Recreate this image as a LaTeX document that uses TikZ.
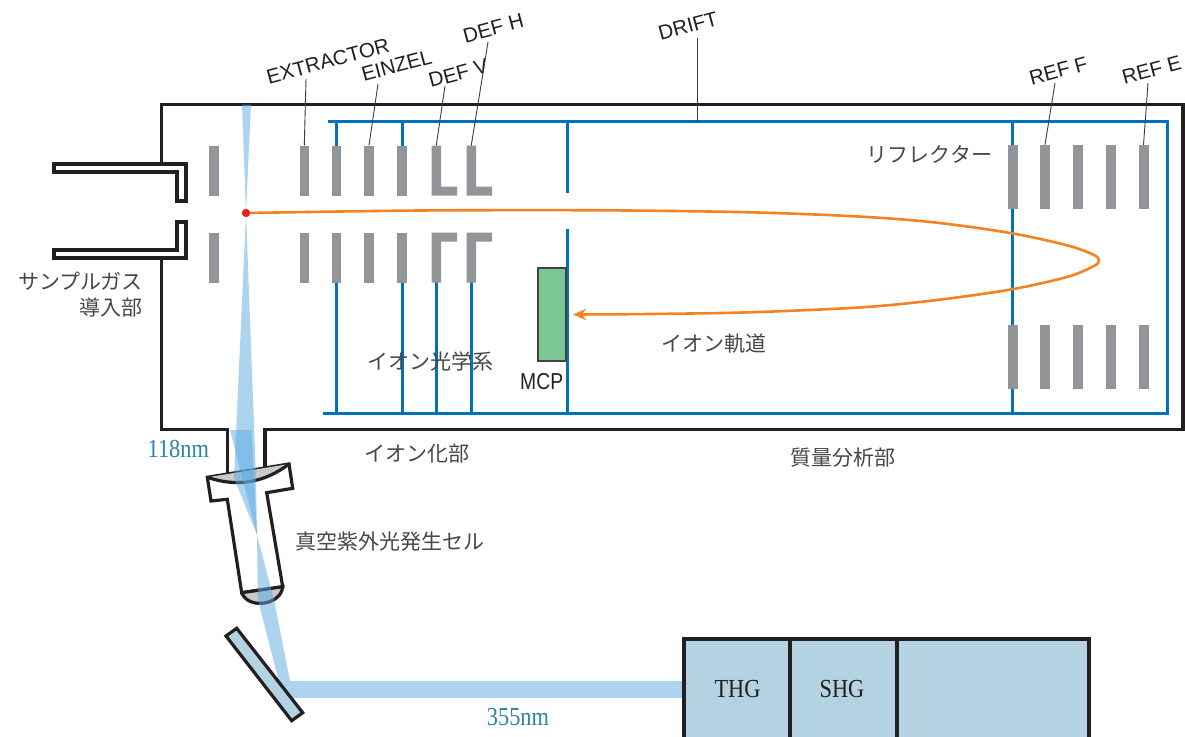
\documentclass[tikz,border=0pt]{standalone}
\usepackage{fontspec}
\setmainfont{Liberation Sans}
\newfontfamily\tagfont{Liberation Sans}
\newfontfamily\jpfont{Noto Sans CJK JP}
\newfontfamily\serifnarrow[FakeStretch=0.86]{Liberation Serif}
\newfontfamily\sansnarrow[FakeStretch=0.84]{Liberation Sans}
\usetikzlibrary{arrows.meta}

\definecolor{ink}{HTML}{231F20}
\definecolor{wireblue}{HTML}{0072BC}
\definecolor{elgray}{HTML}{939598}
\definecolor{leadgray}{HTML}{3C3C3C}
\definecolor{jpgray}{HTML}{474747}
\definecolor{ionorange}{HTML}{F58220}
\definecolor{ionred}{HTML}{ED1C24}
\definecolor{mcpgreen}{HTML}{7BC794}
\definecolor{optblue}{HTML}{B3D3E3}
\definecolor{lensgray}{HTML}{C8C9CA}
\definecolor{beamblue}{RGB}{90,170,225}
\definecolor{nmteal}{HTML}{2A84A6}

\tikzset{
  wall/.style={draw=ink, line width=3.2pt, line join=miter},
  wire/.style={draw=wireblue, line width=3pt},
  electrode/.style={rectangle, fill=elgray, inner sep=0pt, minimum width=9.5pt, minimum height=50pt},
  refplate/.style={rectangle, fill=elgray, inner sep=0pt, minimum width=10pt, minimum height=64pt},
  leader/.style={draw=leadgray, line width=0.9pt},
  tag/.style={font=\tagfont\fontsize{20.5}{24}\selectfont, text=ink, rotate=15, inner sep=0pt},
  jp/.style={font=\jpfont\fontsize{21}{24}\selectfont, text=jpgray, inner sep=0pt},
  nm/.style={font=\serifnarrow\fontsize{26}{28}\selectfont, text=nmteal, inner sep=0pt},
  gen/.style={font=\serifnarrow\fontsize{26}{28}\selectfont, text=ink, inner sep=0pt},
  beam/.style={fill=beamblue, fill opacity=0.5},
  optic/.style={draw=ink, line width=3.2pt, fill=optblue, line join=miter},
  ion/.style={draw=ionorange, line width=2.6pt},
}

\begin{document}
\begin{tikzpicture}[x=1pt,y=-1pt]
\useasboundingbox (0,0) rectangle (1185,736);
\clip (0,0) rectangle (1185,736);
\fill[white] (0,0) rectangle (1185,736);

% ---------- vacuum chamber ----------
\draw[wall] (161.5,164) -- (161.5,104.5) -- (1183,104.5) -- (1183,429.5) -- (265,429.5) -- (265,469);
\draw[wall] (161.5,258) -- (161.5,429.5) -- (227.3,429.5) -- (227.3,475);

% sample gas inlet
\filldraw[wall, fill=white] (54,164) -- (186,164) -- (186,201) -- (177,201) -- (177,172) -- (54,172) -- cycle;
\filldraw[wall, fill=white] (54,250) -- (177,250) -- (177,222) -- (186,222) -- (186,258) -- (54,258) -- cycle;

% ---------- electrical wiring ----------
\coordinate (w-tl) at (327.5,121.5);
\coordinate (w-tr) at (1167,121.5);
\coordinate (w-br) at (1167,413);
\coordinate (w-bl) at (323,413);
\draw[wire, line join=miter] (w-tl) -- (w-tr) -- (w-br) -- (w-bl);
\draw[wire] (1012.5,121.5) -- (1012.5,413);
\draw[wire] (336.5,121.5) -- (336.5,150);
\draw[wire] (402,121.5) -- (402,150);
\draw[wire] (336.5,270) -- (336.5,413);
\draw[wire] (402,270) -- (402,413);
\draw[wire] (436.25,270) -- (436.25,413);
\draw[wire] (471.25,270) -- (471.25,413);
\coordinate (drift-top) at (567,121.5);
\draw[wire] (drift-top) -- (567,193.3);
\draw[wire] (567,229.3) -- (567,413);

% ---------- electrodes ----------
\foreach \n/\x in {src/214, ext/304.3, ez1/336.5, ez2/369, ez3/402} {
  \node[electrode] (\n-u) at (\x,170.5) {};
  \node[electrode] (\n-l) at (\x,257.5) {};
}
% deflectors (L-shaped plates)
\fill[elgray] (431.5,145.5) -- (441,145.5) -- (441,186.5) -- (457,186.5) -- (457,195.5) -- (431.5,195.5) -- cycle;
\fill[elgray] (466.5,145.5) -- (476,145.5) -- (476,186.5) -- (492,186.5) -- (492,195.5) -- (466.5,195.5) -- cycle;
\fill[elgray] (431.5,232.5) -- (457,232.5) -- (457,241.5) -- (441,241.5) -- (441,282.5) -- (431.5,282.5) -- cycle;
\fill[elgray] (466.5,232.5) -- (492,232.5) -- (492,241.5) -- (476,241.5) -- (476,282.5) -- (466.5,282.5) -- cycle;
\coordinate (defv-top) at (436.25,145.5);
\coordinate (defh-top) at (471.25,145.5);

% reflectron plates
\foreach \i/\x in {1/1012.5, 2/1045, 3/1078, 4/1110.5, 5/1143.5} {
  \node[refplate] (rf\i-u) at (\x,177) {};
  \node[refplate] (rf\i-l) at (\x,357) {};
}

% detector
\node[rectangle, fill=mcpgreen, draw=ink!85, line width=1.3pt, inner sep=0pt,
      minimum width=28pt, minimum height=93pt] (mcp) at (552,314.5) {};

% ---------- labels with leaders ----------
\node[tag] (t-ext) at (328,61) {EXTRACTOR};
\node[tag] (t-einzel) at (396.7,65.7) {EINZEL};
\node[tag] (t-defv) at (458.3,73.3) {DEF V};
\node[tag] (t-defh) at (493.3,28.3) {DEF H};
\node[tag] (t-drift) at (688,26) {DRIFT};
\node[tag] (t-reff) at (1058.3,70.7) {REF F};
\node[tag] (t-refe) at (1151.7,70) {REF E};

\coordinate (t-ext-foot) at (306,79);
\coordinate (t-einzel-foot) at (378,84);
\coordinate (t-defv-foot) at (445,86);
\coordinate (t-defh-foot) at (488,42);
\coordinate (t-drift-foot) at (697,38);
\coordinate (drift-wire) at (697,121.5);
\coordinate (t-reff-foot) at (1055,83);
\coordinate (t-refe-foot) at (1148,83);

\draw[leader] (t-ext-foot) -- (ext-u.north);
\draw[leader] (t-einzel-foot) -- (ez2-u.north);
\draw[leader] (t-defv-foot) -- (defv-top);
\draw[leader] (t-defh-foot) -- (defh-top);
\draw[leader] (t-drift-foot) -- (drift-wire);
\draw[leader] (t-reff-foot) -- (rf2-u.north);
\draw[leader] (t-refe-foot) -- (rf5-u.north);

% ---------- text ----------
\node[jp, anchor=east] (j-inlet1) at (143,281.5) {サンプルガス};
\node[jp, anchor=east] (j-inlet2) at (143,308) {導入部};
\node[jp] (j-optics) at (430,361) {イオン光学系};
\node[jp] (j-ionize) at (417,454) {イオン化部};
\node[jp] (j-mass) at (843,458) {質量分析部};
\node[jp, anchor=west] (j-cell) at (295,541.5) {真空紫外光発生セル};
\node[jp] (j-refl) at (929.5,154) {リフレクター};
\node[jp] (j-orbit) at (714,344) {イオン軌道};
\node[font=\sansnarrow\fontsize{23}{26}\selectfont, text=ink, inner sep=0pt] (t-mcp) at (541.7,381.5) {MCP};
\node[nm] (t-118) at (178.3,449) {118nm};
\node[nm] (t-355) at (518,717) {355nm};

% ---------- VUV generation cell ----------
\coordinate (F1) at (207.3,477.3);
\coordinate (F2) at (289,464);
\coordinate (F3) at (292.7,488.3);
\coordinate (T1) at (266.7,492.7);
\coordinate (T2) at (282.7,586.7);
\coordinate (T3) at (241.7,592.7);
\coordinate (T4) at (227.3,499.3);
\coordinate (F4) at (211,501);
\filldraw[wall, fill=white] (F1) -- (F2) -- (F3) -- (T1) -- (T2) -- (T3) -- (T4) -- (F4) -- cycle;
% lenses
\fill[lensgray] (F1) .. controls (236.9,487.4) and (264.2,482.9) .. (F2) -- cycle;
\draw[wall] (F1) .. controls (236.9,487.4) and (264.2,482.9) .. (F2);
\fill[lensgray] (T3) .. controls (248.4,609.9) and (281.2,605.1) .. (T2) -- cycle;
\draw[wall] (T3) .. controls (248.4,609.9) and (281.2,605.1) .. (T2) -- (T3);

% ---------- laser beams ----------
\coordinate (laser-out-top) at (684,681);
\coordinate (laser-out-bot) at (684,698);
\coordinate (focus-cell) at (257,535);
\coordinate (focus-ion) at (246,213);
\fill[beam] (laser-out-top) -- (290,681) -- (274,600) -- (focus-cell) -- (251.5,430) -- (230,430)
   -- (focus-cell) -- (258,600) -- (279,682) -- (292,698) -- (laser-out-bot) -- cycle;
\fill[beam] (focus-cell) -- (234,478) -- (focus-ion) -- (242,104.5) -- (251,104.5) -- (focus-ion)
   -- (256,478) -- cycle;

% mirror
\filldraw[optic] (226,636) -- (236.7,628.3) -- (302.7,712.7) -- (291.7,720.7) -- cycle;

% laser with harmonic generators
\draw[optic] (684,639) rectangle (1089,760);
\draw[wall] (790,639) -- (790,760);
\draw[wall] (897,639) -- (897,760);
\node[gen] (t-thg) at (737.5,689.5) {THG};
\node[gen] (t-shg) at (842,689.5) {SHG};

% ---------- ion trajectory ----------
\node[circle, fill=ionred, inner sep=0pt, minimum size=8pt] (ionpt) at (focus-ion) {};
\coordinate (mcp-hit) at (573,314.5);
\draw[ion, -{Stealth[length=13pt, width=11pt, inset=4pt]}]
  plot[smooth, tension=0.5] coordinates {(ionpt.center) (420,210.5) (600,210.3) (750,212.3) (862,216.7)
    (937,222.7) (1012,233.3) (1068,245.5) (1094,255) (1099,260.5) (1094,266) (1068,276.7)
    (1012,289.3) (937,300) (862,307.3) (750,312.3) (650,314) (mcp-hit)};
\node[circle, fill=ionred, inner sep=0pt, minimum size=8pt] at (ionpt.center) {};
\end{tikzpicture}
\end{document}
